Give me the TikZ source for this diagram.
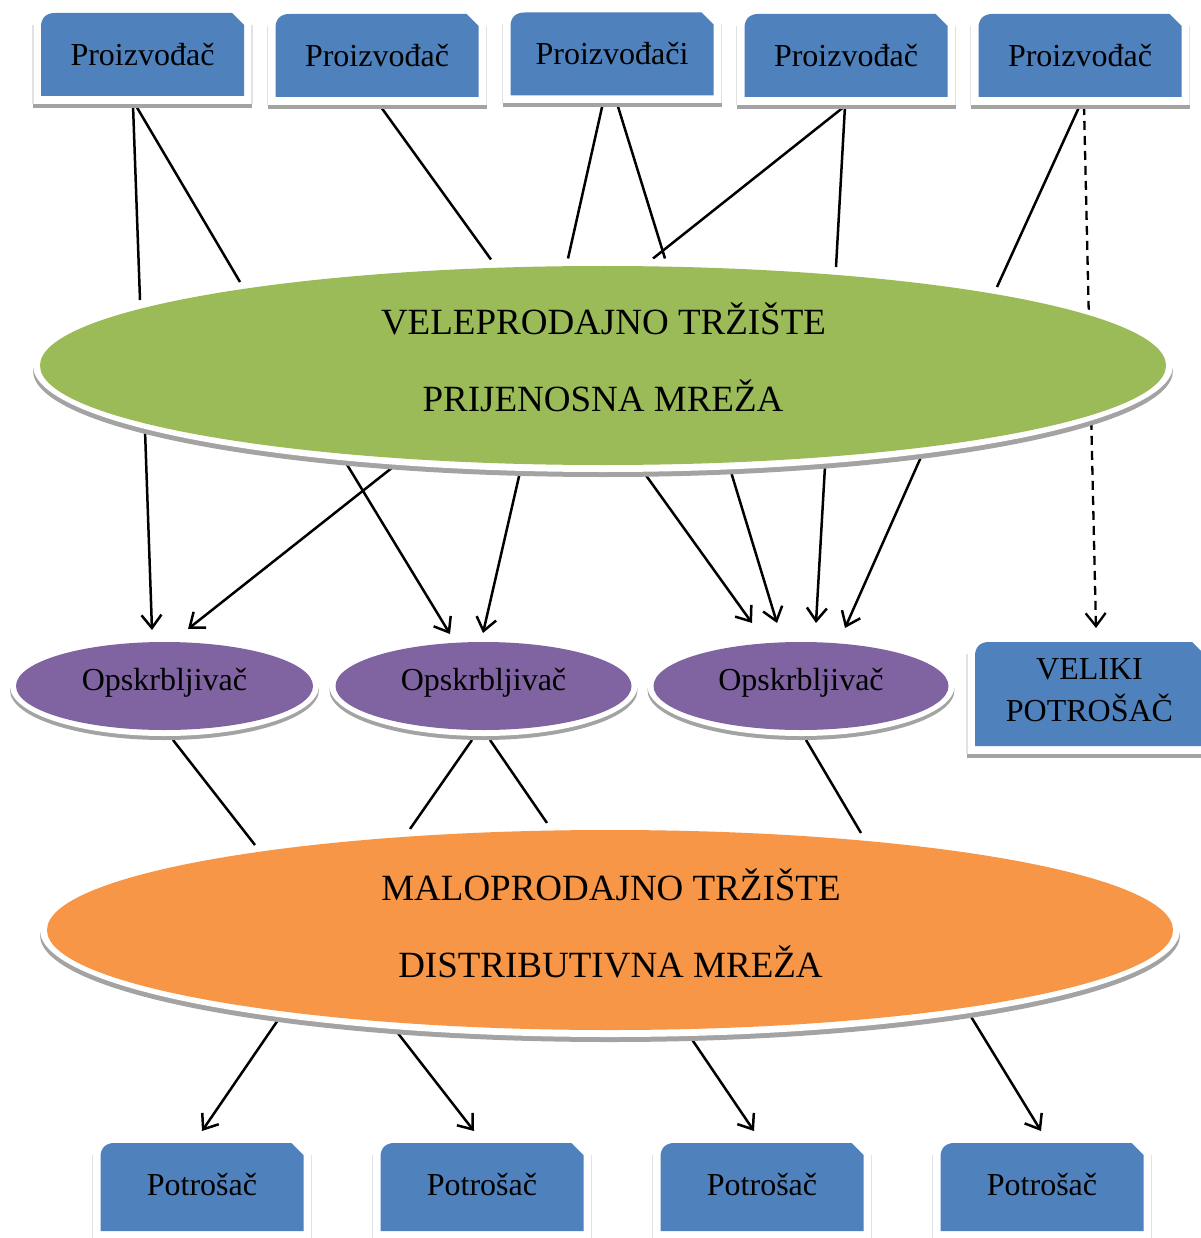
\documentclass[tikz,border=0pt]{standalone}
\usepackage{fontspec}
\setmainfont{Liberation Serif}
\usetikzlibrary{arrows.meta,shapes.geometric}
\pgfdeclarelayer{lines}
\pgfdeclarelayer{shapes}
\pgfsetlayers{lines,shapes,main}
\definecolor{boxblue}{HTML}{4F81BD}
\definecolor{ellgreen}{HTML}{9BBB59}
\definecolor{ellpurple}{HTML}{8064A2}
\definecolor{ellorange}{HTML}{F79646}
\definecolor{shgray}{HTML}{A3A3A3}
\definecolor{framegray}{HTML}{E2E2E2}

\newcommand\blubox[1]{%
  \begin{pgfonlayer}{shapes}
    \fill[shgray] ([shift={(-8,8)}]#1.south west) rectangle ([shift={(8,12)}]#1.south east);
    \fill[white] ([shift={(-8,0)}]#1.north west) rectangle ([shift={(8,8)}]#1.south east);
    \draw[framegray, line width=1.2pt] ([shift={(-8,12)}]#1.north west) -- ([shift={(-8,8)}]#1.south west);
    \draw[framegray, line width=1.2pt] ([shift={(8,12)}]#1.north east) -- ([shift={(8,8)}]#1.south east);
    \fill[boxblue] (#1.south west) -- ([shift={(0,14)}]#1.north west)
      .. controls ([shift={(0,5)}]#1.north west) and ([shift={(5,0)}]#1.north west) .. ([shift={(14,0)}]#1.north west)
      -- ([shift={(-12,0)}]#1.north east) -- ([shift={(0,12)}]#1.north east) -- (#1.south east) -- cycle;
  \end{pgfonlayer}}

\newcommand\ellshape[6]{%
  \begin{pgfonlayer}{shapes}
    \fill[shgray] ([yshift=-#6pt]#1.center) ellipse [x radius=#3+#5, y radius=#4+#5];
    \fill[white] (#1.center) ellipse [x radius=#3+#5, y radius=#4+#5];
    \fill[#2] (#1.center) ellipse [x radius=#3, y radius=#4];
  \end{pgfonlayer}}

\begin{document}
\begin{tikzpicture}[x=1pt,y=-1pt,
  basebox/.style={rectangle, inner sep=0pt, outer sep=0pt, minimum width=203, minimum height=83},
  prodnode/.style={basebox, font=\fontsize{32}{38}\selectfont, text height=22pt, text depth=0pt},
  consnode/.style={basebox, minimum height=88, font=\fontsize{32}{38}\selectfont, text height=22pt, text depth=6pt},
  ellnode/.style={ellipse, inner sep=0pt, outer sep=0pt},
  supnode/.style={ellnode, minimum width=297, minimum height=88, font=\fontsize{32}{38}\selectfont, text height=22pt, text depth=14pt},
  bigtxt/.style={anchor=base, inner sep=0pt, font=\fontsize{37}{44}\selectfont},
  conn/.style={line width=2.5pt, black},
  arr/.style={conn, -{Straight Barb[length=13pt,width=20pt]}},
  dasharr/.style={line width=2.3pt, black, dash pattern=on 9pt off 6pt, -{Straight Barb[length=13pt,width=20pt]}}]

\useasboundingbox (0,0) rectangle (1200,1238);
\begin{pgfonlayer}{lines}
  \fill[white] (0,0) rectangle (1200,1238);
\end{pgfonlayer}

% producers
\node[prodnode] (P1) at (142.5,54.5) {Proizvođač};
\node[prodnode] (P2) at (377,55.5) {Proizvođač};
\node[prodnode] (P3) at (612,54) {Proizvođači};
\node[prodnode] (P4) at (846,55.5) {Proizvođač};
\node[prodnode] (P5) at (1080,55.5) {Proizvođač};

% wholesale ellipse
\node[ellnode, minimum width=1126, minimum height=199] (G) at (603,365.5) {};
\node[bigtxt] (G1) at (603.5,334) {VELEPRODAJNO TRŽIŠTE};
\node[bigtxt] (G2) at (603,411) {PRIJENOSNA MREŽA};

% suppliers
\node[supnode] (S1) at (164.5,686) {Opskrbljivač};
\node[supnode] (S2) at (483.5,686) {Opskrbljivač};
\node[supnode] (S3) at (801,686) {Opskrbljivač};

% large consumer
\node[basebox, minimum width=229, minimum height=104, align=center,
      font=\fontsize{32}{42}\selectfont, text depth=7pt] (V) at (1089.5,694) {VELIKI\\POTROŠAČ};

% retail ellipse
\node[ellnode, minimum width=1126, minimum height=200] (O) at (610,930) {};
\node[bigtxt] (O1) at (611,900) {MALOPRODAJNO TRŽIŠTE};
\node[bigtxt] (O2) at (610.5,977) {DISTRIBUTIVNA MREŽA};

% consumers
\node[consnode] (C1) at (202,1187) {Potrošač};
\node[consnode] (C2) at (482,1187) {Potrošač};
\node[consnode] (C3) at (762,1187) {Potrošač};
\node[consnode] (C4) at (1042,1187) {Potrošač};

% shapes
\blubox{P1}\blubox{P2}\blubox{P3}\blubox{P4}\blubox{P5}
\blubox{V}
\blubox{C1}\blubox{C2}\blubox{C3}\blubox{C4}
\ellshape{G}{ellgreen}{563}{99.5}{7}{5}
\ellshape{O}{ellorange}{563}{100}{7}{5}
\ellshape{S1}{ellpurple}{148.5}{44}{6}{4}
\ellshape{S2}{ellpurple}{148}{44}{6}{4}
\ellshape{S3}{ellpurple}{147.5}{44}{6}{4}

% connectors
\begin{pgfonlayer}{lines}
  % producers -> wholesale
  \draw[conn] ([shift={(-9.5,9)}]P1.south) -- ([shift={(-463,-65.5)}]G.center);
  \draw[conn] ([shift={(-7,9)}]P1.south) -- ([shift={(-363,-83.5)}]G.center);
  \draw[conn] ([shift={(2.5,8)}]P2.south) -- ([shift={(-112,-106)}]G.center);
  \draw[conn] ([shift={(-9.5,9.5)}]P3.south) -- ([shift={(-35,-107)}]G.center);
  \draw[conn] ([shift={(5.5,9.5)}]P3.south) -- ([shift={(62,-107)}]G.center);
  \draw[conn] ([shift={(-1,9)}]P4.south) -- ([shift={(50,-107)}]G.center);
  \draw[conn] ([shift={(-1,9)}]P4.south) -- ([shift={(233,-98.5)}]G.center);
  \draw[conn] ([shift={(0,8)}]P5.south) -- ([shift={(394,-78.5)}]G.center);
  \draw[dasharr] ([shift={(4,9)}]P5.south) -- ([shift={(6.5,-14)}]V.north);
  % wholesale -> suppliers
  \draw[arr] ([shift={(-458,64.5)}]G.center) -- ([shift={(-12.5,-12)}]S1.north);
  \draw[arr] ([shift={(-210,101.5)}]G.center) -- ([shift={(23.5,-13)}]S1.north);
  \draw[arr] ([shift={(-257,97.5)}]G.center) -- ([shift={(-33.5,-8)}]S2.north);
  \draw[arr] ([shift={(-83,106.5)}]G.center) -- ([shift={(-0.5,-9)}]S2.north);
  \draw[arr] ([shift={(42,108.5)}]G.center) -- ([shift={(-49,-19)}]S3.north);
  \draw[arr] ([shift={(128,106.5)}]G.center) -- ([shift={(-24,-19)}]S3.north);
  \draw[arr] ([shift={(222,100.5)}]G.center) -- ([shift={(15,-19)}]S3.north);
  \draw[arr] ([shift={(318,91.5)}]G.center) -- ([shift={(44,-14)}]S3.north);
  % suppliers -> retail
  \draw[conn] ([shift={(8.5,10)}]S1.south) -- ([shift={(-355,-85)}]O.center);
  \draw[conn] ([shift={(-11.5,10)}]S2.south) -- ([shift={(-200,-101)}]O.center);
  \draw[conn] ([shift={(6.5,10)}]S2.south) -- ([shift={(-63,-107)}]O.center);
  \draw[conn] ([shift={(5,10)}]S3.south) -- ([shift={(251,-97)}]O.center);
  % retail -> consumers
  \draw[arr] ([shift={(-332,90)}]O.center) -- ([shift={(0,-12)}]C1.north);
  \draw[arr] ([shift={(-213,102)}]O.center) -- ([shift={(-8,-12)}]C2.north);
  \draw[arr] ([shift={(81,108)}]O.center) -- ([shift={(-8,-12)}]C3.north);
  \draw[arr] ([shift={(360,85)}]O.center) -- ([shift={(-1,-12)}]C4.north);
\end{pgfonlayer}
\end{tikzpicture}
\end{document}
